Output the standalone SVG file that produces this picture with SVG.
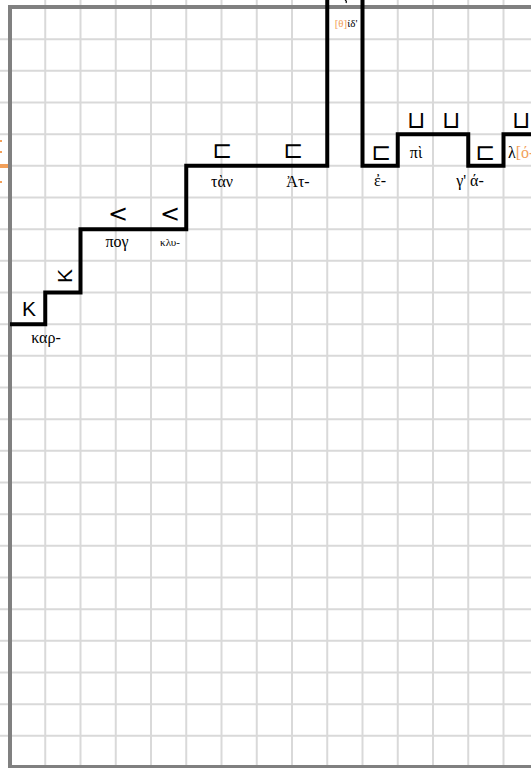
<svg xmlns="http://www.w3.org/2000/svg" width="531" height="768" viewBox="0 0 531 768">
<style>
.grid line{stroke:#d9d9d9;stroke-width:2}
.axis{fill:none;stroke:#808080;stroke-width:4}
.sym{font-family:"Liberation Sans","DejaVu Sans",sans-serif;font-size:21px;fill:#000;text-anchor:middle}
.lt{font-family:"DejaVu Sans",sans-serif;font-size:24px;fill:#000;text-anchor:middle}
.box{font-family:"DejaVu Sans",sans-serif;font-size:24px;fill:#000;text-anchor:middle}
.lab{font-family:"Liberation Serif","DejaVu Serif",serif;font-size:16px;fill:#000;text-anchor:middle}
.sm{font-size:11px}
.st{text-anchor:start}
.or{fill:#f2a05a}
</style>
<rect width="531" height="768" fill="#fff"/>
<g class="grid">
<line x1="45.25" y1="0" x2="45.25" y2="768"/><line x1="80.5" y1="0" x2="80.5" y2="768"/><line x1="115.75" y1="0" x2="115.75" y2="768"/><line x1="151" y1="0" x2="151" y2="768"/><line x1="186.25" y1="0" x2="186.25" y2="768"/><line x1="221.5" y1="0" x2="221.5" y2="768"/><line x1="256.75" y1="0" x2="256.75" y2="768"/><line x1="292" y1="0" x2="292" y2="768"/><line x1="327.25" y1="0" x2="327.25" y2="768"/><line x1="362.5" y1="0" x2="362.5" y2="768"/><line x1="397.75" y1="0" x2="397.75" y2="768"/><line x1="433" y1="0" x2="433" y2="768"/><line x1="468.25" y1="0" x2="468.25" y2="768"/><line x1="503.5" y1="0" x2="503.5" y2="768"/>
<line x1="0" y1="39.2" x2="531" y2="39.2"/><line x1="0" y1="70.8" x2="531" y2="70.8"/><line x1="0" y1="102.5" x2="531" y2="102.5"/><line x1="0" y1="134.2" x2="531" y2="134.2"/><line x1="0" y1="165.8" x2="531" y2="165.8"/><line x1="0" y1="197.5" x2="531" y2="197.5"/><line x1="0" y1="229.2" x2="531" y2="229.2"/><line x1="0" y1="260.8" x2="531" y2="260.8"/><line x1="0" y1="292.5" x2="531" y2="292.5"/><line x1="0" y1="324.2" x2="531" y2="324.2"/><line x1="0" y1="355.8" x2="531" y2="355.8"/><line x1="0" y1="387.5" x2="531" y2="387.5"/><line x1="0" y1="419.2" x2="531" y2="419.2"/><line x1="0" y1="450.8" x2="531" y2="450.8"/><line x1="0" y1="482.5" x2="531" y2="482.5"/><line x1="0" y1="514.2" x2="531" y2="514.2"/><line x1="0" y1="545.8" x2="531" y2="545.8"/><line x1="0" y1="577.5" x2="531" y2="577.5"/><line x1="0" y1="609.2" x2="531" y2="609.2"/><line x1="0" y1="640.8" x2="531" y2="640.8"/><line x1="0" y1="672.5" x2="531" y2="672.5"/><line x1="0" y1="704.2" x2="531" y2="704.2"/><line x1="0" y1="735.8" x2="531" y2="735.8"/>
</g>
<path class="axis" d="M10 768 V7 H540 M10 767 H540"/>
<g id="edge-marks">
<rect x="0" y="164" width="8" height="4" class="or"/>
<rect x="0" y="140" width="2" height="2" class="or"/>
<rect x="0" y="151" width="2" height="2" class="or"/>
<rect x="0" y="181" width="2" height="2" class="or"/>
<path d="M345 0 q2 1 1 3" fill="none" stroke="#000" stroke-width="1.2"/>
</g>
<g id="connectors">
<path d="M10 324.2 H45.25 V292.5 H80.5 V229.2 H186.25 V165.8 H327.25 V-40 H362.5 V165.8 H397.75 V134.2 H468.25 V165.8 H503.5 V134.2 H540" fill="none" stroke="#000" stroke-width="4" stroke-linejoin="miter"/>
</g>
<g id="n1"><text class="sym" x="29" y="316">K</text><text class="lab" x="46" y="343">καρ-</text></g>
<g id="n2"><text class="sym" transform="translate(64 276) rotate(-90)" x="0" y="7.5">K</text></g>
<g id="n3"><text class="lt" x="118" y="222">&lt;</text><text class="lab" x="117" y="247">πογ</text></g>
<g id="n4"><text class="lt" x="170" y="222">&lt;</text><text class="lab sm" x="170" y="246">κλυ-</text></g>
<g id="n5"><text class="box" x="222" y="158">⊏</text><text class="lab" x="222" y="187">τὰν</text></g>
<g id="n6"><text class="box" x="293" y="158">⊏</text><text class="lab" x="298" y="187">Ἀτ-</text></g>
<g id="n7"><text class="lab sm" x="346" y="27"><tspan class="or">[θ]</tspan>ίδ'</text></g>
<g id="n8"><text class="box" x="381" y="160">⊏</text><text class="lab" x="380" y="186">ἐ-</text></g>
<g id="n9"><text class="box" x="416" y="128">⊔</text><text class="lab" x="416" y="158">πὶ</text></g>
<g id="n10"><text class="box" x="451" y="128">⊔</text></g>
<g id="n11"><text class="box" x="485" y="160">⊏</text><text class="lab" x="470" y="186">γ' ά-</text></g>
<g id="n12"><text class="box" x="521" y="128">⊔</text><text class="lab st" x="508" y="158">λ<tspan class="or">[ό-</tspan></text></g>
</svg>
